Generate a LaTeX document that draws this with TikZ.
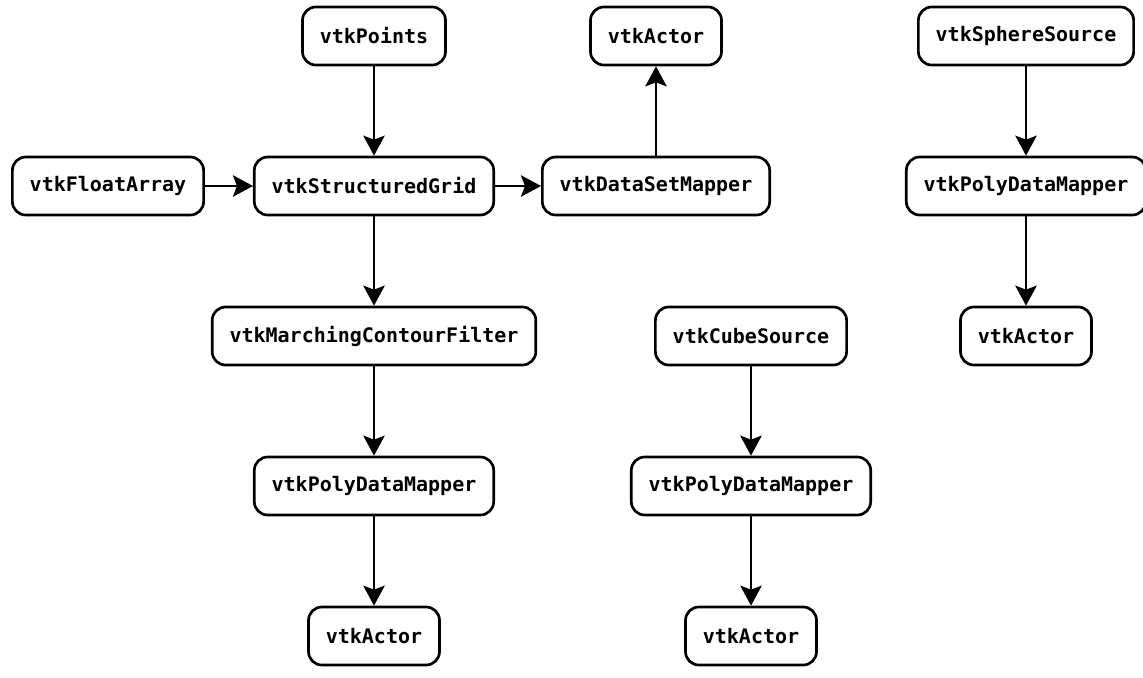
\documentclass[tikz,border=0pt]{standalone}
\usepackage{fontspec}
\usepackage{tikz}
\usetikzlibrary{arrows.meta}
\newfontfamily\vtkfont{DejaVu Sans Mono}

\begin{document}
\begin{tikzpicture}[x=0.75pt,y=-0.75pt,
        box/.style={shape=rectangle,draw=black,line width=2pt,rounded corners=10pt,
                minimum height=43.5pt,inner xsep=13pt,font=\vtkfont\bfseries\fontsize{15}{17}\selectfont},
        flow/.style={line width=2pt,-{Stealth[length=15pt,width=16pt,inset=3pt]}}]
        \useasboundingbox (0,0) rectangle (1143,678);

        \node[box] (P)    at (374,36)  {vtkPoints};
        \node[box] (A0)   at (656,36)  {vtkActor};
        \node[box] (SS)   at (1026,36) {vtkSphereSource};
        \node[box] (FA)   at (108,186) {vtkFloatArray};
        \node[box] (SG)   at (374,186) {vtkStructuredGrid};
        \node[box] (DSM)  at (656,186) {vtkDataSetMapper};
        \node[box] (PDM3) at (1026,186) {vtkPolyDataMapper};
        \node[box] (MCF)  at (374,336) {vtkMarchingContourFilter};
        \node[box] (CS)   at (751,336) {vtkCubeSource};
        \node[box] (A3)   at (1026,336) {vtkActor};
        \node[box] (PDM1) at (374,486) {vtkPolyDataMapper};
        \node[box] (PDM2) at (751,486) {vtkPolyDataMapper};
        \node[box] (A1)   at (374,636) {vtkActor};
        \node[box] (A2)   at (751,636) {vtkActor};

        \path [flow](P) edge (SG);
        \path [flow](FA) edge (SG);
        \path [flow](SG) edge (DSM);
        \path [flow](DSM) edge (A0);
        \path [flow](SG) edge (MCF);
        \path [flow](MCF) edge (PDM1);
        \path [flow](PDM1) edge (A1);
        \path [flow](CS) edge (PDM2);
        \path [flow](PDM2) edge (A2);
        \path [flow](SS) edge (PDM3);
        \path [flow](PDM3) edge (A3);
    \end{tikzpicture}
\end{document}
